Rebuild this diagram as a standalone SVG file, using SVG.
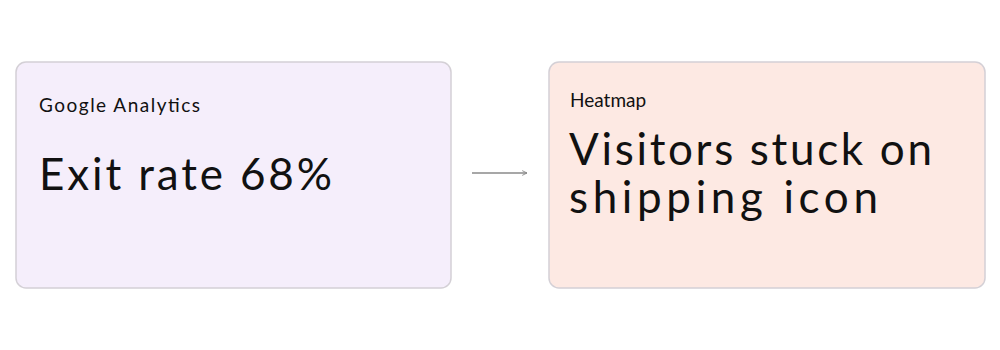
<svg xmlns="http://www.w3.org/2000/svg" width="1000" height="350" viewBox="0 0 1000 350">
<style>
.box{stroke:#d4d0d6;stroke-width:1.5}
.small{font-family:Lato,"Noto Sans",sans-serif;font-size:19px;fill:#111}
.big{font-family:Lato,"Noto Sans",sans-serif;font-size:44px;fill:#111}
</style>
<defs>
<marker id="ah" viewBox="0 0 10 10" refX="9" refY="5" markerWidth="6" markerHeight="6" orient="auto" markerUnits="userSpaceOnUse">
<path d="M1,1 L9,5 L1,9" fill="none" stroke="#8a8a8a" stroke-width="1.5"/>
</marker>
</defs>
<rect width="1000" height="350" fill="#fff"/>
<g id="node-ga">
<rect class="box" x="16" y="62" width="435" height="226" rx="10" fill="#f5eefb"/>
<text class="small" x="39" y="112" textLength="161" lengthAdjust="spacing">Google Analytics</text>
<text class="big" x="39" y="190" textLength="293" lengthAdjust="spacing">Exit rate 68%</text>
</g>
<g id="node-heatmap">
<rect class="box" x="549" y="62" width="436" height="226" rx="10" fill="#fde9e3"/>
<text class="small" x="570" y="107">Heatmap</text>
<text class="big" x="569" y="165" textLength="363" lengthAdjust="spacing">Visitors stuck on</text>
<text class="big" x="569" y="213" textLength="309" lengthAdjust="spacing">shipping icon</text>
</g>
<g id="connectors">
<line x1="472" y1="173" x2="527" y2="173" stroke="#8a8a8a" stroke-width="1.5" marker-end="url(#ah)"/>
</g>
</svg>
